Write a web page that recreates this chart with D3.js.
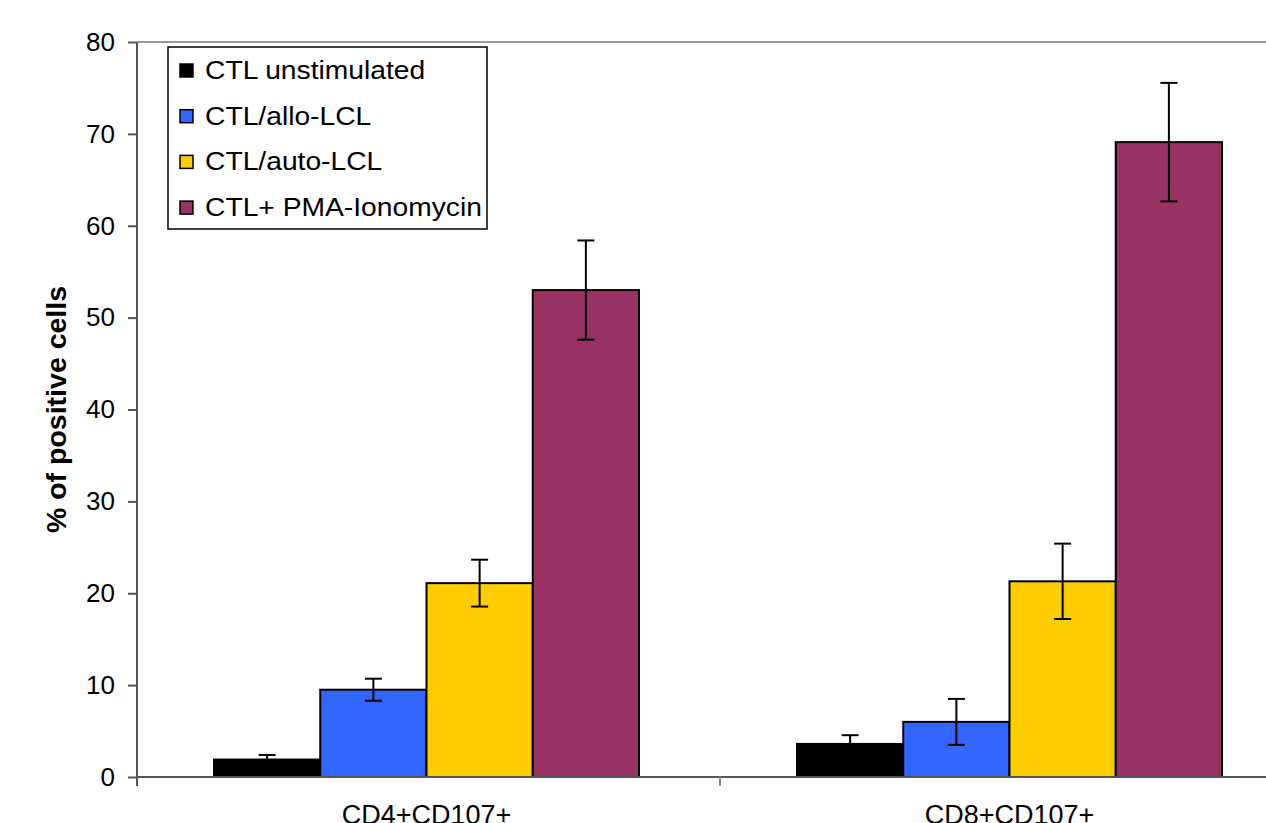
<!DOCTYPE html>
<html>
<head>
<meta charset="utf-8">
<script src="https://cdn.jsdelivr.net/npm/d3@7"></script>
<style>
  html, body { margin: 0; padding: 0; background: #fff; overflow: hidden; }
  svg { display: block; font-family: "Liberation Sans", Arial, sans-serif; }
</style>
</head>
<body>
<svg id="chart" width="1266" height="823"></svg>
<script>
// Marker categories on the x axis
const categories = ["CD4+CD107+", "CD8+CD107+"];
// Stimulation conditions (series)
const seriesNames = ["CTL unstimulated", "CTL/allo-LCL", "CTL/auto-LCL", "CTL+ PMA-Ionomycin"];
const seriesColors = ["#000000", "#3366FF", "#FFCC00", "#993366"];
// Mean % of positive cells, one array per series: [CD4, CD8]
const unstimulated = [1.9, 3.6];
const alloLCL = [9.5, 6.0];
const autoLCL = [21.1, 21.3];
const pmaIonomycin = [53.0, 69.1];
// Error bar half-widths (SD)
const errUnstimulated = [0.5, 0.95];
const errAlloLCL = [1.2, 2.5];
const errAutoLCL = [2.55, 4.1];
const errPmaIonomycin = [5.4, 6.45];
const yTicks = [0, 10, 20, 30, 40, 50, 60, 70, 80];

const values = [unstimulated, alloLCL, autoLCL, pmaIonomycin];
const errors = [errUnstimulated, errAlloLCL, errAutoLCL, errPmaIonomycin];

const svg = d3.select("#chart");
const margin = { left: 137, top: 42 };
const plotW = 1166, plotH = 735;

const x0 = d3.scaleBand().domain(categories).range([0, plotW]).paddingInner(0).paddingOuter(0);
const x1 = d3.scaleBand().domain(seriesNames).range([77, x0.bandwidth() - 81]).padding(0);
const y = d3.scaleLinear().domain([0, 80]).range([plotH, 0]);

const g = svg.append("g").attr("transform", `translate(${margin.left},${margin.top})`);

// plot frame top edge
g.append("line").attr("x1", 0).attr("x2", plotW).attr("y1", 0).attr("y2", 0)
  .attr("stroke", "#9a9a9a").attr("stroke-width", 2);

// bars
const rows = [];
categories.forEach((c, ci) => seriesNames.forEach((s, si) => rows.push({ c, s, si, v: values[si][ci], e: errors[si][ci] })));

g.selectAll("rect.bar").data(rows).join("rect").attr("class", "bar")
  .attr("x", d => x0(d.c) + x1(d.s))
  .attr("width", x1.bandwidth())
  .attr("y", d => y(d.v))
  .attr("height", d => y(0) - y(d.v))
  .attr("fill", d => seriesColors[d.si])
  .attr("stroke", "#000").attr("stroke-width", 2);

// error bars
const eb = g.selectAll("g.err").data(rows).join("g").attr("class", "err")
  .attr("transform", d => `translate(${x0(d.c) + x1(d.s) + x1.bandwidth() / 2},0)`);
eb.append("line").attr("y1", d => y(d.v + d.e)).attr("y2", d => y(Math.max(0, d.v - d.e)))
  .attr("stroke", "#000").attr("stroke-width", 2);
eb.append("line").attr("x1", -8.5).attr("x2", 8.5).attr("y1", d => y(d.v + d.e)).attr("y2", d => y(d.v + d.e))
  .attr("stroke", "#000").attr("stroke-width", 2);
eb.append("line").attr("x1", -8.5).attr("x2", 8.5)
  .attr("y1", d => y(Math.max(0, d.v - d.e))).attr("y2", d => y(Math.max(0, d.v - d.e)))
  .attr("stroke", "#000").attr("stroke-width", 2);

// y axis
const yAxis = g.append("g").call(d3.axisLeft(y).tickValues(yTicks).tickSize(9).tickPadding(13));
yAxis.select(".domain").attr("d", `M0,0V${plotH + 9}`).attr("stroke", "#555").attr("stroke-width", 2);
yAxis.selectAll(".tick line").attr("stroke", "#555").attr("stroke-width", 2);
yAxis.selectAll(".tick text").attr("font-size", 26).attr("fill", "#000")
  .attr("font-family", "'Liberation Sans', Arial, sans-serif");

// x axis with separators between categories
const xAxisG = g.append("g").attr("transform", `translate(0,${plotH})`);
xAxisG.append("line").attr("x1", 0).attr("x2", plotW).attr("stroke", "#555").attr("stroke-width", 2);
xAxisG.selectAll("line.sep").data(categories.slice(1)).join("line").attr("class", "sep")
  .attr("x1", d => x0(d)).attr("x2", d => x0(d)).attr("y1", 0).attr("y2", 9)
  .attr("stroke", "#888").attr("stroke-width", 2);
// category labels centred under each bar group
const groupMid = (x1.range()[0] + x1.range()[1]) / 2;
xAxisG.selectAll("text").data(categories).join("text")
  .attr("x", d => x0(d) + groupMid)
  .attr("y", 47).attr("text-anchor", "middle").attr("font-size", 27).attr("fill", "#000")
  .text(d => d);

// y axis title
svg.append("text").attr("transform", `translate(66,${margin.top + plotH / 2}) rotate(-90)`)
  .attr("text-anchor", "middle").attr("font-size", 28.5).attr("font-weight", "bold").attr("fill", "#000")
  .text("% of positive cells");

// legend
const lg = svg.append("g").attr("transform", "translate(168,47)");
lg.append("rect").attr("width", 319).attr("height", 182).attr("fill", "#fff")
  .attr("stroke", "#000").attr("stroke-width", 1.5);
const li = lg.selectAll("g.item").data(seriesNames).join("g").attr("class", "item")
  .attr("transform", (d, i) => `translate(0,${23 + i * 45.7})`);
li.append("rect").attr("x", 12).attr("y", -6).attr("width", 13).attr("height", 13)
  .attr("fill", (d, i) => seriesColors[i]).attr("stroke", "#000").attr("stroke-width", 1.5);
li.append("text").attr("transform", "translate(37,9) scale(1.13,1)")
  .attr("font-size", 25).attr("fill", "#000").text(d => d);
</script>
</body>
</html>
